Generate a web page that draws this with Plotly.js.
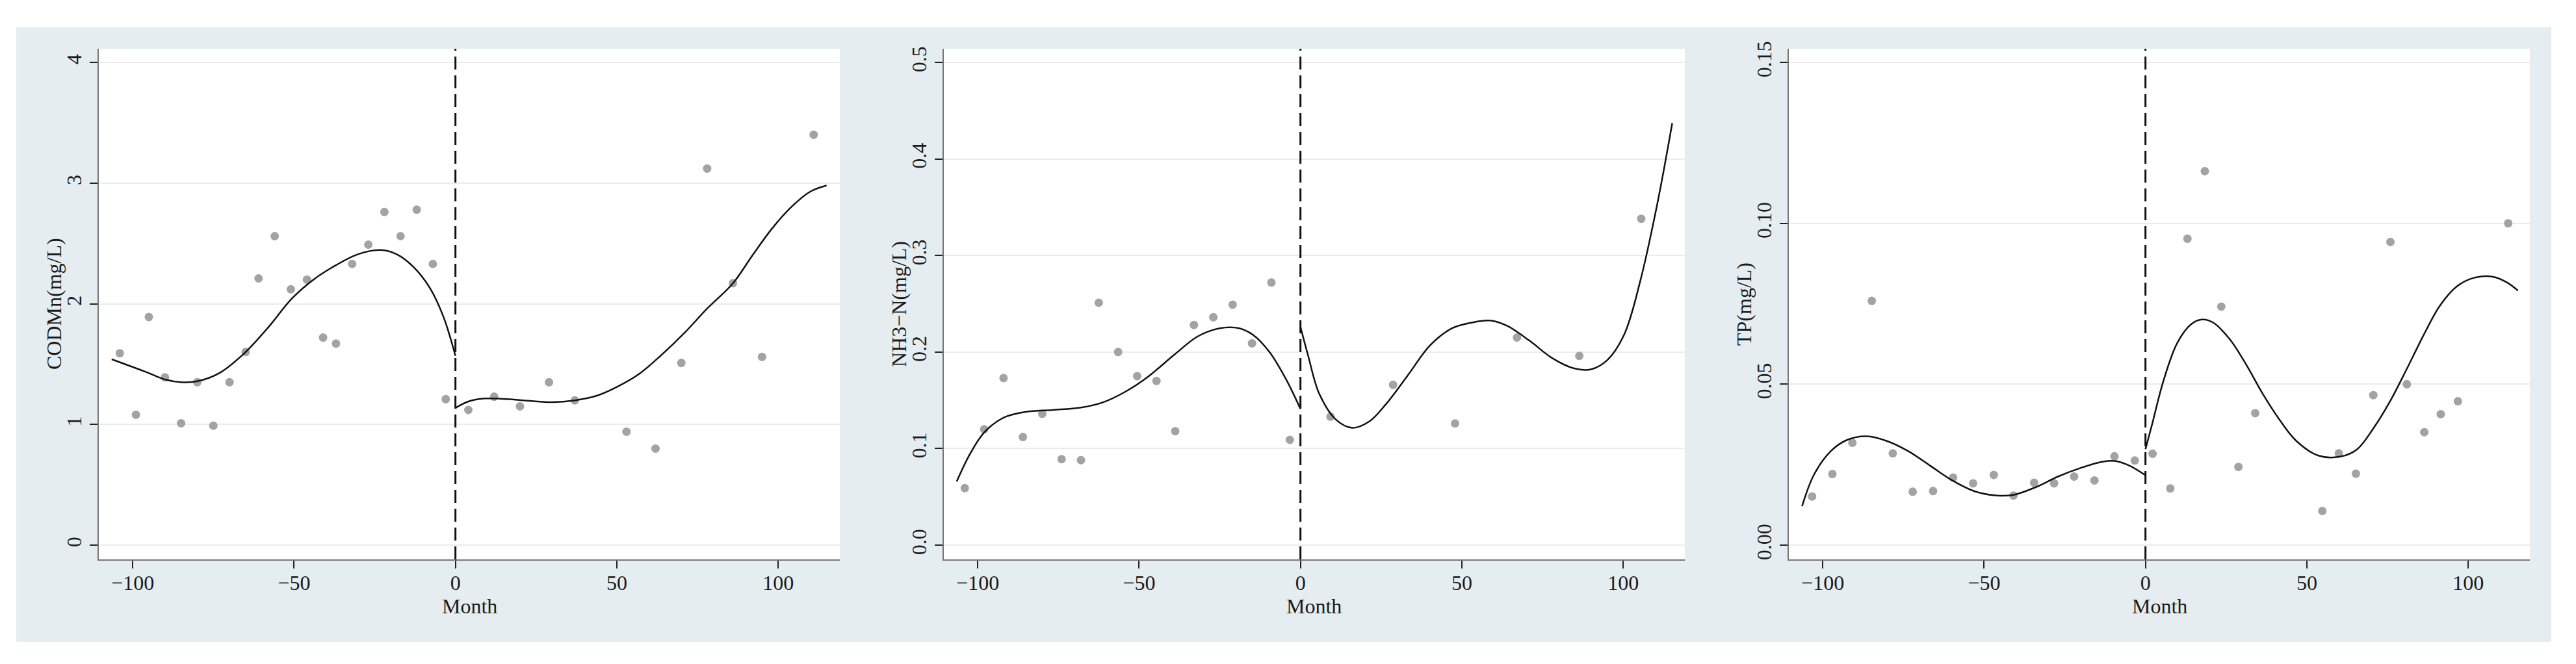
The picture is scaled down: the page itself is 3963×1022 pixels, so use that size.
<!DOCTYPE html>
<html>
<head>
<meta charset="utf-8">
<script src="https://cdn.plot.ly/plotly-3.0.1.min.js"></script>
<style>html,body{margin:0;padding:0;background:#fff;}#chart{width:3963px;height:1022px;}</style>
</head>
<body>
<div id="chart"></div>
<script>
// ---------- Data ----------
const xTickVals = [-100, -50, 0, 50, 100];
const xTickText = ["\u2212100", "\u221250", "0", "50", "100"];

// Panel 1: CODMn
const codMonth = [-104,-99,-95,-90,-85,-80,-75,-70,-65,-61,-56,-51,-46,-41,-37,-32,-27,-22,-17,-12,-7,-3,
                  4,12,20,29,37,53,62,70,78,86,95,111];
const codValue = [1.59,1.08,1.89,1.39,1.01,1.35,0.99,1.35,1.60,2.21,2.56,2.12,2.20,1.72,1.67,2.33,2.49,2.76,2.56,2.78,2.33,1.21,
                  1.12,1.23,1.15,1.35,1.20,0.94,0.80,1.51,3.12,2.17,1.56,3.40];
const codFitPreX  = [-106.5,-95.4,-90.3,-85,-80,-73,-65.4,-57.7,-50.8,-44,-37,-30.2,-23.3,-18.2,-13,-7.9,-3.6,0];
const codFitPreY  = [1.54,1.43,1.375,1.35,1.358,1.428,1.59,1.814,2.04,2.2,2.32,2.41,2.445,2.41,2.305,2.13,1.884,1.568];
const codFitPostX = [0,4,9,16,23,30,37,44,50,57,64,71,78,86,92,98,104,110,115];
const codFitPostY = [1.137,1.19,1.215,1.21,1.195,1.185,1.2,1.24,1.31,1.42,1.58,1.76,1.96,2.17,2.40,2.62,2.80,2.93,2.98];
const codTicks = [0, 1, 2, 3, 4];
const codTickText = ["0", "1", "2", "3", "4"];

// Panel 2: NH3-N
const nh3Month = [-104,-98,-92,-86,-80,-74,-68,-62.5,-56.5,-50.6,-44.6,-38.8,-33,-27,-21,-15,-9,-3.3,
                  9.3,28.7,47.9,67.1,86.4,105.6];
const nh3Value = [0.059,0.120,0.173,0.112,0.136,0.089,0.088,0.251,0.200,0.175,0.170,0.118,0.228,0.236,0.249,0.209,0.272,0.109,
                  0.133,0.166,0.126,0.215,0.196,0.338];
const nh3FitPreX  = [-106.5,-102.3,-97.9,-92,-85.2,-76.6,-68,-61.1,-54.2,-47.4,-38.8,-31.9,-25,-19,-14.8,-9.6,-4.5,0];
const nh3FitPreY  = [0.066,0.095,0.117,0.132,0.138,0.140,0.1425,0.148,0.159,0.174,0.198,0.216,0.2246,0.2246,0.218,0.200,0.172,0.141];
const nh3FitPostX = [0,2.4,5.8,11,16.1,21.3,26.4,33.3,40.2,47,53.9,59.1,64.2,71.1,77.9,84.8,90,95.1,100.3,105.4,110.6,115.2];
const nh3FitPostY = [0.226,0.196,0.157,0.130,0.1215,0.128,0.1456,0.176,0.207,0.2246,0.231,0.2325,0.2268,0.2114,0.1939,0.183,0.182,0.1917,0.218,0.275,0.354,0.437];
const nh3Ticks = [0, 0.1, 0.2, 0.3, 0.4, 0.5];
const nh3TickText = ["0.0", "0.1", "0.2", "0.3", "0.4", "0.5"];

// Panel 3: TP
const tpMonth = [-103.3,-97,-90.8,-84.8,-78.3,-72.1,-65.8,-59.6,-53.4,-47,-40.9,-34.5,-28.3,-22.1,-15.8,-9.6,-3.3,
                 2.2,7.7,13,18.4,23.5,28.8,34,54.8,59.9,65.2,70.6,75.9,81,86.4,91.5,96.8,112.4];
const tpValue = [0.0151,0.0221,0.0318,0.0759,0.0285,0.0166,0.0168,0.0210,0.0192,0.0218,0.0154,0.0194,0.0192,0.0213,0.0201,0.0276,0.0263,
                 0.0284,0.0176,0.0952,0.1162,0.0741,0.0243,0.0410,0.0106,0.0285,0.0222,0.0466,0.0942,0.0500,0.0351,0.0407,0.0447,0.1000];
const tpFitPreX  = [-106.4,-102.7,-97.5,-92.4,-86.4,-80.3,-73.5,-66.6,-59.7,-52.9,-46,-40.9,-34,-27.1,-20.3,-13.4,-9.1,-4.8,0];
const tpFitPreY  = [0.0121,0.0219,0.0292,0.0327,0.0338,0.0324,0.0292,0.0246,0.0200,0.0167,0.0154,0.0156,0.0180,0.0213,0.0239,0.0259,0.0261,0.0246,0.0217];
const tpFitPostX = [0,2.1,5.5,9.8,14.1,17.5,20.9,26.1,31.2,36.4,41.5,46.7,53.6,60.4,65.6,70.7,75.9,81,86.2,91.3,96.5,101.6,107.6,111.9,115.4];
const tpFitPostY = [0.0298,0.0377,0.0508,0.0627,0.0686,0.0701,0.0692,0.0640,0.0561,0.0469,0.0390,0.0324,0.0278,0.0275,0.0298,0.0364,0.0449,0.0548,0.0653,0.0745,0.0804,0.0830,0.0834,0.0817,0.0791];
const tpTicks = [0, 0.05, 0.10, 0.15];
const tpTickText = ["0.00", "0.05", "0.10", "0.15"];

const yTitles = ["CODMn(mg/L)", "NH3\u2212N(mg/L)", "TP(mg/L)"];
const xTitle = "Month";

// ---------- Styling / layout ----------
const W = 3963, H = 1022;
const FONT = "Liberation Serif, Times New Roman, serif";
const plotLeftPx = [152, 1452, 2752];
const plotWidthPx = 1140;
const plotTopPx = 75, plotBottomPx = 861;
const xRange = [-110.5, 119.1];
const yRanges = [[-0.118, 4.113], [-0.0148, 0.5141], [-0.00444, 0.15424]];

const panels = [
  {mx: codMonth, my: codValue, preX: codFitPreX, preY: codFitPreY, postX: codFitPostX, postY: codFitPostY, tv: codTicks, tt: codTickText},
  {mx: nh3Month, my: nh3Value, preX: nh3FitPreX, preY: nh3FitPreY, postX: nh3FitPostX, postY: nh3FitPostY, tv: nh3Ticks, tt: nh3TickText},
  {mx: tpMonth,  my: tpValue,  preX: tpFitPreX,  preY: tpFitPreY,  postX: tpFitPostX,  postY: tpFitPostY,  tv: tpTicks,  tt: tpTickText}
];

const traces = [];
const layout = {
  width: W, height: H,
  margin: {l: 0, r: 0, t: 0, b: 0},
  paper_bgcolor: "#ffffff",
  plot_bgcolor: "#ffffff",
  showlegend: false,
  font: {family: FONT, size: 32, color: "#1a1a1a"},
  shapes: [],
  annotations: []
};

// outer graph region background
layout.shapes.push({type: "rect", xref: "paper", yref: "paper", layer: "below",
  x0: 25 / W, x1: 3925 / W, y0: (H - 988) / H, y1: (H - 42) / H,
  fillcolor: "#e5edf1", line: {width: 0}});

panels.forEach((p, i) => {
  const n = i + 1;
  const xa = n === 1 ? "x" : "x" + n;
  const ya = n === 1 ? "y" : "y" + n;
  const dx0 = plotLeftPx[i] / W, dx1 = (plotLeftPx[i] + plotWidthPx) / W;
  const dy0 = (H - plotBottomPx) / H, dy1 = (H - plotTopPx) / H;

  layout.shapes.push({type: "rect", xref: "paper", yref: "paper", layer: "below",
    x0: dx0, x1: dx1, y0: dy0, y1: dy1, fillcolor: "#ffffff", line: {width: 0}});

  layout["xaxis" + (n === 1 ? "" : n)] = {
    domain: [dx0, dx1], anchor: ya, range: xRange,
    tickmode: "array", tickvals: xTickVals, ticktext: xTickText,
    ticks: "outside", ticklen: 12, tickwidth: 2, tickcolor: "#222",
    ticklabelstandoff: -5,
    showline: true, linecolor: "#777", linewidth: 2,
    showgrid: false, zeroline: false,
    tickfont: {family: FONT, size: 32, color: "#1a1a1a"}
  };
  layout["yaxis" + (n === 1 ? "" : n)] = {
    domain: [dy0, dy1], anchor: xa, range: yRanges[i],
    tickmode: "array", tickvals: p.tv, ticktext: p.tt, tickangle: -90,
    ticks: "outside", ticklen: 12, tickwidth: 2, tickcolor: "#222",
    showline: true, linecolor: "#777", linewidth: 2,
    showgrid: true, gridcolor: "#ebebeb", gridwidth: 2, zeroline: false,
    tickfont: {family: FONT, size: 32, color: "#1a1a1a"}
  };
  // y-axis title
  layout.annotations.push({xref: "paper", yref: "paper",
    x: (plotLeftPx[i] - 69) / W, y: (H - (plotTopPx + plotBottomPx) / 2) / H,
    xanchor: "center", yanchor: "middle", textangle: -90, showarrow: false,
    text: yTitles[i], font: {family: FONT, size: 32, color: "#1a1a1a"}});
  // x-axis title
  layout.annotations.push({xref: "paper", yref: "paper",
    x: (plotLeftPx[i] + plotWidthPx / 2) / W, y: (H - 933) / H,
    xanchor: "center", yanchor: "middle", showarrow: false,
    text: xTitle, font: {family: FONT, size: 32, color: "#1a1a1a"}});

  // vertical dashed reference line at Month = 0
  layout.shapes.push({type: "line", xref: xa, yref: ya + " domain", x0: 0, x1: 0, y0: 0, y1: 1,
    line: {color: "#111", width: 3, dash: "20px,9px"}});

  traces.push({type: "scatter", mode: "markers", x: p.mx, y: p.my, xaxis: xa, yaxis: ya,
    marker: {color: "#a3a3a3", size: 13, line: {width: 0}}, hoverinfo: "skip"});
  traces.push({type: "scatter", mode: "lines", x: p.preX, y: p.preY, xaxis: xa, yaxis: ya,
    line: {color: "#111", width: 2.5, shape: "spline", smoothing: 1}, hoverinfo: "skip"});
  traces.push({type: "scatter", mode: "lines", x: p.postX, y: p.postY, xaxis: xa, yaxis: ya,
    line: {color: "#111", width: 2.5, shape: "spline", smoothing: 1}, hoverinfo: "skip"});
});

Plotly.newPlot("chart", traces, layout, {staticPlot: true, displayModeBar: false});
</script>
</body>
</html>
